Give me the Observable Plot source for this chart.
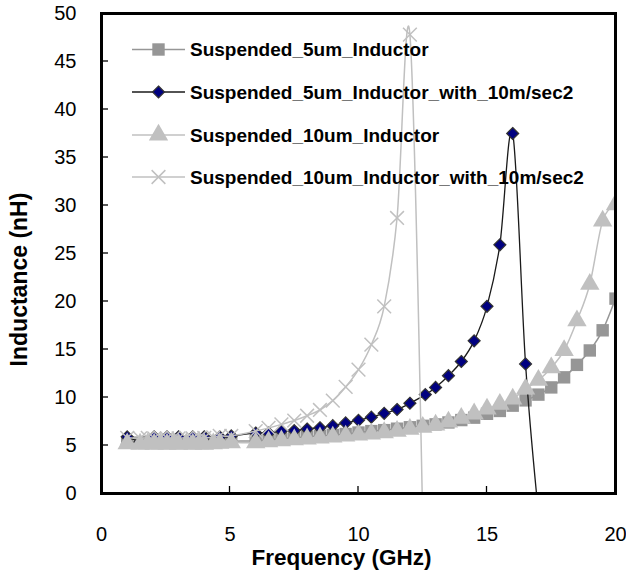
<!DOCTYPE html>
<html>
<head>
<meta charset="utf-8">
<script src="https://cdn.jsdelivr.net/npm/d3@7"></script>
<script src="https://cdn.jsdelivr.net/npm/@observablehq/plot@0.6"></script>
<style>
  html, body { margin: 0; padding: 0; background: #fff; }
  #wrap { position: relative; width: 626px; height: 576px; }
  #legend { position: absolute; left: 0; top: 0; pointer-events: none; }
  svg { font-family: "Liberation Sans", Arial, sans-serif; }
</style>
</head>
<body>
<div id="wrap"></div>
<script>
// ---- data ----
const seriesNames = [
  "Suspended_5um_Inductor",
  "Suspended_5um_Inductor_with_10m/sec2",
  "Suspended_10um_Inductor",
  "Suspended_10um_Inductor_with_10m/sec2"
];
const freqInd = [1,1.5,1.8,2.05,2.3,2.55,2.8,3,3.3,3.55,3.8,4,4.35,4.6,5.05,6,6.5,7,7.5,8,8.5,9,9.5,10,10.5,11,11.5,12,12.5,13,13.5,14,14.5,15,15.5,16,16.5,17,17.5,18,18.5,19,19.5,20];
const ind5um = [5.35,5.3,5.35,5.3,5.35,5.3,5.35,5.3,5.35,5.3,5.35,5.3,5.35,5.4,5.45,5.5,5.6,5.7,5.8,5.9,6.0,6.1,6.2,6.35,6.5,6.6,6.75,6.9,7.05,7.2,7.4,7.65,7.9,8.3,8.6,9.15,9.7,10.3,11.05,12.1,13.4,14.9,17.0,20.3];
const ind10um = [5.2,5.15,5.2,5.15,5.2,5.15,5.2,5.15,5.2,5.15,5.2,5.15,5.2,5.25,5.3,5.3,5.4,5.5,5.6,5.7,5.8,5.9,6.0,6.1,6.2,6.35,6.5,6.7,6.9,7.15,7.45,7.85,8.3,8.8,9.3,9.85,10.9,11.8,13.1,14.9,18.0,21.8,28.4,30.1];
const freq5umAcc = [1,1.5,1.8,2.05,2.3,2.55,2.8,3,3.3,3.55,3.8,4,4.35,4.6,5.05,6,6.5,7,7.5,8,8.5,9,9.5,10,10.5,11,11.5,12,12.6,13,13.5,14,14.5,15,15.5,16,16.5,17];
const ind5umAcc = [5.9,5.4,5.4,5.9,5.4,5.9,5.4,5.9,5.4,5.9,5.4,5.9,5.4,5.9,6.0,6.3,6.3,6.5,6.55,6.72,6.85,7.07,7.35,7.62,7.95,8.35,8.75,9.4,10.3,11.05,12.27,13.75,15.9,19.5,25.9,37.5,13.5,-2];
const freq10umAcc = [1,1.5,1.8,2.05,2.3,2.55,2.8,3,3.3,3.55,3.8,4,4.35,4.6,5.05,6,6.5,7,7.5,8,8.5,9,9.5,10,10.5,11,11.5,12,12.5];
const ind10umAcc = [5.8,5.75,5.8,5.75,5.8,5.75,5.8,5.75,5.8,5.75,5.8,5.8,5.85,6.0,6.0,6.5,6.83,7.2,7.6,8.1,8.7,9.67,11.1,12.9,15.5,19.5,28.7,47.8,-3];
const xTicks = [0,5,10,15,20];
const yTicks = [0,5,10,15,20,25,30,35,40,45,50];
const xLabel = "Frequency (GHz)";
const yLabel = "Inductance (nH)";

// ---- styles per series ----
const styles = [
  {symbol: "square",   fill: "#969696", stroke: "none",    line: "#969696", r: 7.0, lw: 1.5},
  {symbol: "diamond2", fill: "#000080", stroke: "#333333", line: "#1a1a1a", r: 5.4, lw: 1.3},
  {symbol: "triangle", fill: "#c0c0c0", stroke: "none",    line: "#c0c0c0", r: 7.2, lw: 1.5},
  {symbol: "times",    fill: "none",    stroke: "#c0c0c0", line: "#c0c0c0", r: 6.3, lw: 1.5}
];

const mk = (fx, fy) => fx.map((f, i) => ({f, v: fy[i]}));
const sets = [mk(freqInd, ind5um), mk(freq5umAcc, ind5umAcc), mk(freqInd, ind10um), mk(freq10umAcc, ind10umAcc)];

const marks = [];
sets.forEach((data, i) => {
  const s = styles[i];
  marks.push(Plot.line(data, {x: "f", y: "v", stroke: s.line, strokeWidth: s.lw, curve: "catmull-rom", tension: 0, clip: true}));
  if (s.symbol === "times") {
    marks.push(Plot.dot(data, {x: "f", y: "v", symbol: s.symbol, r: s.r, stroke: s.stroke, strokeWidth: 1.5, clip: true}));
  } else {
    marks.push(Plot.dot(data, {x: "f", y: "v", symbol: s.symbol, r: s.r, fill: s.fill, stroke: s.stroke, strokeWidth: s.stroke === "none" ? 0 : 1.2, clip: true}));
  }
});

const chart = Plot.plot({
  width: 626,
  height: 576,
  marginLeft: 101,
  marginRight: 11,
  marginTop: 13,
  marginBottom: 83,
  style: {fontFamily: "'Liberation Sans', Arial, sans-serif", fontSize: "20px", color: "#000", background: "#fff"},
  x: {domain: [0, 20], ticks: xTicks},
  y: {domain: [0, 50], ticks: yTicks},
  marks: [
    ...marks,
    Plot.axisX(xTicks, {tickSize: 0, tickPadding: 33, fontSize: 20, label: null}),
    Plot.axisY(yTicks, {tickSize: 0, tickPadding: 25, fontSize: 20, label: null}),
    Plot.frame({stroke: "#000", strokeWidth: 3}),
    Plot.text([xLabel], {frameAnchor: "bottom", dx: -17, dy: 64, lineAnchor: "middle", textAnchor: "middle", text: d => d, fontWeight: "bold", fontSize: 22.5}),
    Plot.text([yLabel], {frameAnchor: "left", dx: -82, dy: 26, rotate: -90, textAnchor: "middle", lineAnchor: "middle", text: d => d, fontWeight: "bold", fontSize: 23})
  ]
});

const wrap = document.getElementById("wrap");
wrap.appendChild(chart);

// inward tick marks, positioned through the chart's own scales
const sx = chart.scale("x"), sy = chart.scale("y");
const tg = d3.select(chart).append("g").attr("stroke", "#000").attr("stroke-width", 1.3);
xTicks.forEach(t => {
  const px = sx.apply(t), py = sy.apply(0);
  tg.append("line").attr("x1", px).attr("x2", px).attr("y1", py).attr("y2", py - 7);
});
yTicks.forEach(t => {
  const px = sx.apply(0), py = sy.apply(t);
  tg.append("line").attr("x1", px).attr("x2", px + 7).attr("y1", py).attr("y2", py);
});

// ---- legend overlay ----
const legend = d3.select(wrap).append("svg")
  .attr("id", "legend").attr("width", 626).attr("height", 576);
const rowY = [49.5, 92, 135, 177];
const symMap = {square: d3.symbolSquare, diamond2: d3.symbolDiamond2, triangle: d3.symbolTriangle, times: d3.symbolTimes};
seriesNames.forEach((name, i) => {
  const s = styles[i];
  const g = legend.append("g").attr("transform", `translate(0,${rowY[i]})`);
  g.append("line").attr("x1", 132).attr("x2", 185).attr("y1", 0).attr("y2", 0)
    .attr("stroke", s.line).attr("stroke-width", s.lw);
  g.append("path")
    .attr("transform", "translate(158.5,0)")
    .attr("d", d3.symbol(symMap[s.symbol], Math.PI * s.r * s.r)())
    .attr("fill", s.fill)
    .attr("stroke", s.stroke)
    .attr("stroke-width", s.symbol === "times" ? 1.5 : (s.stroke === "none" ? 0 : 1.2));
  g.append("text").attr("x", 190).attr("y", 0).attr("dy", "0.35em")
    .attr("font-family", "'Liberation Sans', Arial, sans-serif")
    .attr("font-weight", "bold").attr("font-size", 19)
    .text(name);
});
</script>
</body>
</html>
